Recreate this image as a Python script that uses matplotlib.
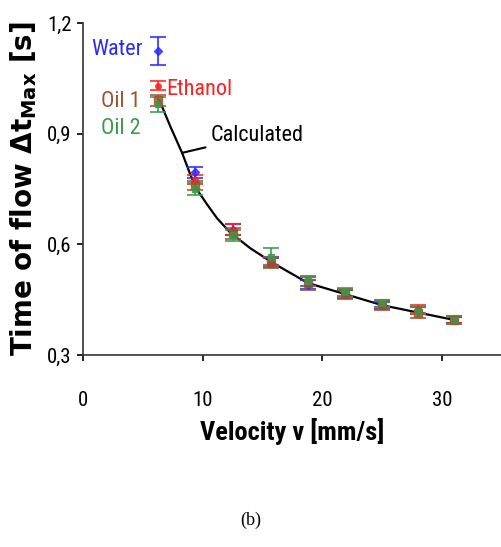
import matplotlib
matplotlib.use("Agg")
import matplotlib.pyplot as plt
from matplotlib import font_manager
from matplotlib.ticker import FuncFormatter

# ---- data ----
v = [6.3, 9.4, 12.5, 15.7, 18.8, 21.9, 25.0, 28.0, 31.0]
water = [1.125, 0.795, 0.64, 0.55, 0.49, 0.465, 0.435, 0.42, 0.395]
water_err = [0.038, 0.015, 0.015, 0.012, 0.012, 0.01, 0.01, 0.01, 0.008]
ethanol = [1.03, 0.775, 0.64, 0.555, 0.50, 0.47, 0.44, 0.425, 0.395]
ethanol_err = [0.012, 0.012, 0.015, 0.012, 0.012, 0.01, 0.01, 0.01, 0.008]
oil1 = [0.99, 0.76, 0.63, 0.55, 0.495, 0.465, 0.435, 0.415, 0.395]
oil1_err = [0.015, 0.012, 0.015, 0.015, 0.02, 0.012, 0.012, 0.015, 0.01]
oil2 = [0.98, 0.75, 0.625, 0.565, 0.50, 0.47, 0.44, 0.42, 0.395]
oil2_err = [0.02, 0.015, 0.015, 0.025, 0.012, 0.012, 0.01, 0.01, 0.01]

calc_v = [6.4, 7.3, 8.3, 9.0, 9.5, 10.4, 11.2, 12.3, 14.0, 15.9, 18.8, 21.9, 25.0, 28.0, 31.0]
calc_t = [0.99, 0.92, 0.847, 0.787, 0.75, 0.707, 0.671, 0.632, 0.589, 0.549, 0.495, 0.465, 0.435, 0.415, 0.395]

xticks = [0, 10, 20, 30]
yticks = [0.3, 0.6, 0.9, 1.2]

# ---- fonts ----
entries = font_manager.fontManager.ttflist
names = {f.name for f in entries}
stretch = 'normal'
if "Liberation Sans Narrow" in names:
    narrow = "Liberation Sans Narrow"
elif "Roboto Condensed" in names:
    narrow = "Roboto Condensed"
elif any(f.name == 'DejaVu Sans' and str(f.stretch) in ('condensed', 'semi-condensed') for f in entries):
    narrow = 'DejaVu Sans'
    stretch = 'condensed'
else:
    narrow = "Liberation Sans"
plt.rcParams['font.family'] = [narrow, 'DejaVu Sans']
plt.rcParams['font.stretch'] = stretch
plt.rcParams['mathtext.default'] = 'regular'

fig = plt.figure(figsize=(5.02, 5.47), dpi=100)
ax = fig.add_axes([0.165, 0.351, 0.835, 0.607])

ax.plot(calc_v, calc_t, color='black', lw=1.6, zorder=2)

series = [
    (water, water_err, '#2a2aff', 'D', 4),
    (ethanol, ethanol_err, '#ff2020', 'o', 4),
    (oil1, oil1_err, '#a0522d', 's', 6),
    (oil2, oil2_err, '#3a9a4a', 's', 5),
]
for vals, err, col, mk, ms in series:
    ax.errorbar(v, vals, yerr=err, fmt=mk, color=col, ms=ms, capsize=5.5,
                elinewidth=1.5, capthick=1.5, zorder=3, alpha=0.8)

ax.set_xlim(0, 35)
ax.set_ylim(0.3, 1.2)
ax.set_xticks(xticks)
ax.set_yticks(yticks)
ax.yaxis.set_major_formatter(FuncFormatter(lambda y, p: f"{y:.1f}".replace('.', ',')))
for s in ['top', 'right']:
    ax.spines[s].set_visible(False)
for s in ['left', 'bottom']:
    ax.spines[s].set_linewidth(1.2)
    ax.spines[s].set_color('#333333')
ax.tick_params(direction='out', length=4, width=1.2, labelsize=15)
ax.tick_params(axis='x', pad=22)
ax.tick_params(axis='y', pad=4)

ax.set_xlabel('Velocity v [mm/s]', fontsize=19, fontweight='bold', labelpad=6)
ax.set_ylabel('Time of flow Δt$_{Max}$ [s]', fontsize=20, fontweight='bold',
              family=['DejaVu Sans'], fontstretch='normal', labelpad=6)

ax.text(0.7, 1.127, 'Water', color='#2a2aff', fontsize=16, va='center', ha='left')
ax.text(7.0, 1.02, 'Ethanol', color='#ff2020', fontsize=16, va='center', ha='left')
ax.text(4.8, 0.987, 'Oil 1', color='#a0522d', fontsize=16, va='center', ha='right')
ax.text(4.8, 0.915, 'Oil 2', color='#3a9a4a', fontsize=16, va='center', ha='right')
ax.annotate('Calculated', xy=(8.3, 0.848), xytext=(10.7, 0.896), fontsize=16,
            va='center', ha='left', color='black',
            arrowprops=dict(arrowstyle='-', color='black', lw=1.5, shrinkA=2, shrinkB=0))

fig.text(0.5, 1 - 520 / 547, '(b)', ha='center', va='center', fontsize=13,
         family=['Liberation Serif', 'DejaVu Serif'])

fig.savefig('out.png', dpi=100)
